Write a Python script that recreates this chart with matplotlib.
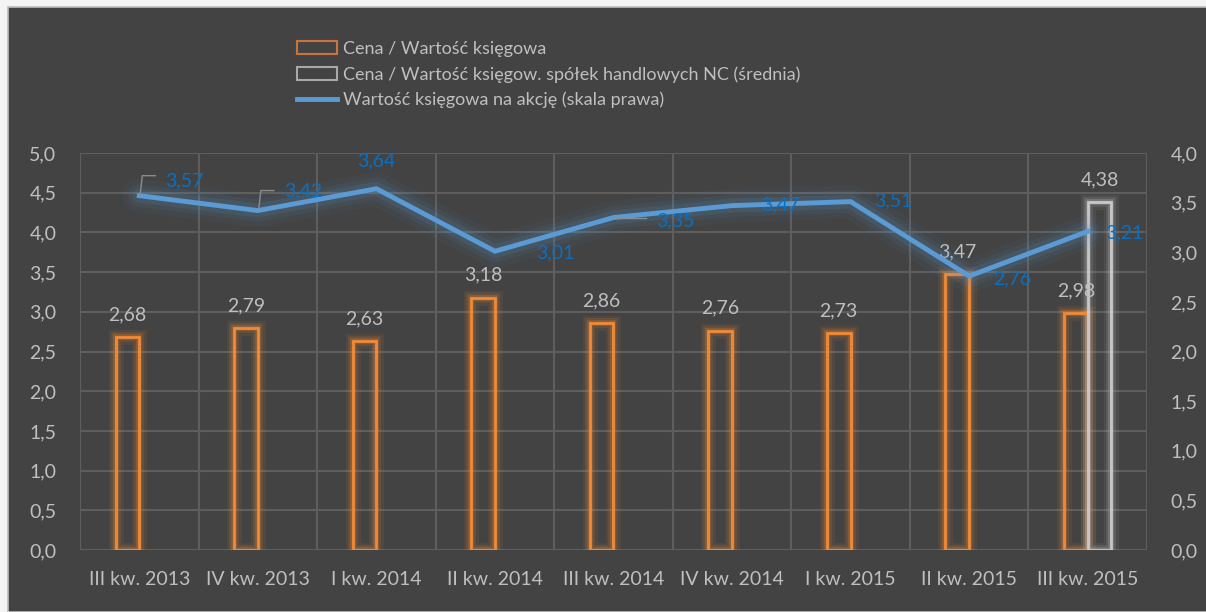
import matplotlib.pyplot as plt
from matplotlib.patches import Patch, Rectangle
from matplotlib.lines import Line2D
import numpy as np

quarters = ["III kw. 2013", "IV kw. 2013", "I kw. 2014", "II kw. 2014", "III kw. 2014",
            "IV kw. 2014", "I kw. 2015", "II kw. 2015", "III kw. 2015"]
price_to_book = [2.68, 2.79, 2.63, 3.18, 2.86, 2.76, 2.73, 3.47, 2.98]
nc_quarters = ["III kw. 2015"]
nc_price_to_book = [4.38]
book_value_per_share = [3.57, 3.42, 3.64, 3.01, 3.35, 3.47, 3.51, 2.76, 3.21]

left_ticks = [0.0, 0.5, 1.0, 1.5, 2.0, 2.5, 3.0, 3.5, 4.0, 4.5, 5.0]
right_ticks = [0.0, 0.5, 1.0, 1.5, 2.0, 2.5, 3.0, 3.5, 4.0]

BG = "#434343"
GRID = "#5e5e5e"
TXT = "#bfbfbf"
ORANGE = "#f28a35"
GREY = "#c8c8c8"
LINE = "#5b9bd5"
LBL_BLUE = "#0b70c0"
FS = 14
FS_LEG = 13

plt.rcParams["font.family"] = ["Lato", "DejaVu Sans"]


def pl(v):
    return f"{v:.2f}".replace(".", ",")


fig = plt.figure(figsize=(12.06, 6.12), dpi=100)
fig.patch.set_facecolor("#f4f4f4")
fig.patches.append(Rectangle((8 / 1206, 0), 1, (612 - 7) / 612, transform=fig.transFigure,
                             facecolor=BG, edgecolor="#bdbdbd", linewidth=1.2, zorder=-10))

ax = fig.add_axes([80 / 1206, 62 / 612, 1067 / 1206, 397 / 612])
ax.set_facecolor("none")
x = np.arange(len(quarters))
w = 0.2

# glow + bars
for lw, a in [(11, 0.08), (7, 0.14), (4, 0.25)]:
    ax.bar(x - w / 2, price_to_book, w, facecolor="none", edgecolor=ORANGE, linewidth=lw, alpha=a, zorder=2)
ax.bar(x - w / 2, price_to_book, w, facecolor="none", edgecolor=ORANGE, linewidth=2, zorder=3)

nc_x = np.array([quarters.index(q) for q in nc_quarters])
for lw, a in [(11, 0.08), (7, 0.14), (4, 0.25)]:
    ax.bar(nc_x + w / 2, nc_price_to_book, w, facecolor="none", edgecolor=GREY, linewidth=lw, alpha=a, zorder=2)
ax.bar(nc_x + w / 2, nc_price_to_book, w, facecolor="none", edgecolor=GREY, linewidth=2, zorder=3)

for xi, v in zip(x, price_to_book):
    ax.annotate(pl(v), (xi - w / 2, v), xytext=(0, 14), textcoords="offset pixels",
                ha="center", va="bottom", color=TXT, fontsize=FS, zorder=5)
for xi, v in zip(nc_x, nc_price_to_book):
    ax.annotate(pl(v), (xi + w / 2, v), xytext=(0, 14), textcoords="offset pixels",
                ha="center", va="bottom", color=TXT, fontsize=FS, zorder=5)

ax.set_xlim(-0.5, len(quarters) - 0.5)
ax.set_ylim(0, 5)
ax.set_yticks(left_ticks)
ax.set_yticklabels([f"{t:.1f}".replace(".", ",") for t in left_ticks])
ax.set_xticks(x)
ax.set_xticklabels(quarters)
ax.set_xticks(np.arange(-0.5, len(quarters), 1), minor=True)
ax.grid(True, axis="y", color=GRID, linewidth=1.5, zorder=0)
ax.grid(True, axis="x", which="minor", color=GRID, linewidth=1.5, zorder=0)
ax.grid(False, axis="x", which="major")
ax.tick_params(axis="both", which="both", length=0, colors=TXT, labelsize=FS)
ax.tick_params(axis="y", pad=17)
ax.tick_params(axis="x", pad=15)
for s in ax.spines.values():
    s.set_visible(False)

ax2 = ax.twinx()
ax2.set_ylim(0, 4)
ax2.set_yticks(right_ticks)
ax2.set_yticklabels([f"{t:.1f}".replace(".", ",") for t in right_ticks])
ax2.tick_params(axis="y", length=0, colors=TXT, labelsize=FS, pad=17)
for s in ax2.spines.values():
    s.set_visible(False)

for lw, a in [(24, 0.05), (16, 0.08), (10, 0.12)]:
    ax2.plot(x, book_value_per_share, color=LINE, linewidth=lw, alpha=a, solid_capstyle="round",
             solid_joinstyle="round", zorder=3)
ax2.plot(x, book_value_per_share, color=LINE, linewidth=3.5, solid_joinstyle="miter", zorder=4)

# label offsets in pixels (text centre relative to point)
offsets = [(45, 15), (45, 20), (0, 28), (60, -2), (62, -3), (48, 1), (43, 1), (43, -3), (37, -1)]
for i, (xi, v) in enumerate(zip(x, book_value_per_share)):
    dx, dy = offsets[i]
    ax2.annotate(pl(v), (xi, v), xytext=(dx, dy), textcoords="offset pixels",
                 ha="center", va="center", color=LBL_BLUE, fontsize=FS, zorder=6)

# leader lines for the first two labels and for 3,35
for i in [0, 1]:
    px, py = ax2.transData.transform((x[i], book_value_per_share[i]))
    pts = [(px + 1, py + 2), (px + 3, py + 20), (px + 16, py + 20)]
    pts = [fig.transFigure.inverted().transform(p) for p in pts]
    fig.add_artist(Line2D([p[0] for p in pts], [p[1] for p in pts], color="#8c8c8c",
                          linewidth=1, transform=fig.transFigure))
px, py = ax2.transData.transform((x[4], book_value_per_share[4]))
a1 = fig.transFigure.inverted().transform((px + 2, py))
a2 = fig.transFigure.inverted().transform((px + 32, py))
fig.add_artist(Line2D([a1[0], a2[0]], [a1[1], a2[1]], color="#8c8c8c", linewidth=1,
                      transform=fig.transFigure))

handles = [
    Patch(facecolor="none", edgecolor="#c8743c", linewidth=1.5),
    Patch(facecolor="none", edgecolor="#a8a8a8", linewidth=1.5),
    Line2D([], [], color=LINE, linewidth=3.5),
]
labels = [
    "Cena / Wartość księgowa",
    "Cena / Wartość księgow. spółek handlowych NC (średnia)",
    "Wartość księgowa na akcję (skala prawa)",
]
fig.legend(handles, labels, loc="upper left", bbox_to_anchor=(288 / 1206, 1 - 32 / 612),
           frameon=False, fontsize=FS_LEG, labelcolor=TXT, handlelength=2.2, handleheight=0.7,
           handletextpad=0.35, labelspacing=0.5, borderpad=0)

fig.savefig("out.png", dpi=100, facecolor=fig.get_facecolor())
